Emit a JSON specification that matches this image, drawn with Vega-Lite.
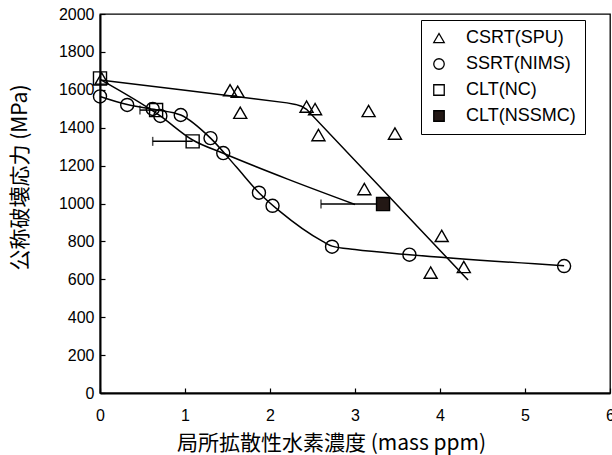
{
  "$schema": "https://vega.github.io/schema/vega-lite/v6.json",
  "width": 510,
  "height": 379,
  "autosize": "none",
  "padding": {"left": 100, "top": 14, "right": 2, "bottom": 62},
  "background": "white",
  "config": {
    "view": {"stroke": "black", "strokeWidth": 1.3},
    "axis": {"grid": false, "domainColor": "black", "domainWidth": 2, "tickColor": "black", "tickWidth": 1.2, "labelFont": "Liberation Sans", "labelFontSize": 16, "labelColor": "black", "labelOverlap": false, "labelFlush": false, "titleFont": "Noto Sans CJK JP", "titleFontSize": 21, "titleFontWeight": "normal", "titleColor": "black"}
  },
  "datasets": {
    "pts": [
      {"series": "CSRT(SPU)", "x": 0.02, "y": 1660},
      {"series": "CSRT(SPU)", "x": 1.53, "y": 1598},
      {"series": "CSRT(SPU)", "x": 1.62, "y": 1590},
      {"series": "CSRT(SPU)", "x": 1.65, "y": 1479},
      {"series": "CSRT(SPU)", "x": 2.43, "y": 1511},
      {"series": "CSRT(SPU)", "x": 2.53, "y": 1498},
      {"series": "CSRT(SPU)", "x": 2.57, "y": 1361},
      {"series": "CSRT(SPU)", "x": 3.16, "y": 1488},
      {"series": "CSRT(SPU)", "x": 3.47, "y": 1369},
      {"series": "CSRT(SPU)", "x": 3.11, "y": 1076},
      {"series": "CSRT(SPU)", "x": 4.02, "y": 829},
      {"series": "CSRT(SPU)", "x": 3.89, "y": 635},
      {"series": "CSRT(SPU)", "x": 4.28, "y": 665},
      {"series": "SSRT(NIMS)", "x": 0.0, "y": 1565},
      {"series": "SSRT(NIMS)", "x": 0.32, "y": 1520},
      {"series": "SSRT(NIMS)", "x": 0.62, "y": 1499},
      {"series": "SSRT(NIMS)", "x": 0.71, "y": 1462},
      {"series": "SSRT(NIMS)", "x": 0.95, "y": 1467},
      {"series": "SSRT(NIMS)", "x": 1.30, "y": 1345},
      {"series": "SSRT(NIMS)", "x": 1.45, "y": 1266},
      {"series": "SSRT(NIMS)", "x": 1.87, "y": 1057},
      {"series": "SSRT(NIMS)", "x": 2.03, "y": 988},
      {"series": "SSRT(NIMS)", "x": 2.73, "y": 772},
      {"series": "SSRT(NIMS)", "x": 3.64, "y": 730},
      {"series": "SSRT(NIMS)", "x": 5.46, "y": 670},
      {"series": "CLT(NC)", "x": 0.0, "y": 1660},
      {"series": "CLT(NC)", "x": 0.66, "y": 1493},
      {"series": "CLT(NC)", "x": 1.09, "y": 1328},
      {"series": "CLT(NSSMC)", "x": 3.33, "y": 997}
    ],
    "errs": [
      {"series": "CLT(NC)", "x": 0.66, "xlo": 0.47, "y": 1493},
      {"series": "CLT(NC)", "x": 1.09, "xlo": 0.62, "y": 1328},
      {"series": "CLT(NSSMC)", "x": 3.33, "xlo": 2.60, "y": 997}
    ],
    "fitA": [
      {"fit": "CSRT", "x": 0.0, "y": 1652},
      {"fit": "CSRT", "x": 1.0, "y": 1598},
      {"fit": "CSRT", "x": 2.2, "y": 1531},
      {"fit": "CSRT", "x": 2.3, "y": 1523},
      {"fit": "CSRT", "x": 2.37, "y": 1513},
      {"fit": "CSRT", "x": 2.43, "y": 1497},
      {"fit": "CSRT", "x": 4.33, "y": 596}
    ],
    "fitB": [
      {"fit": "SSRT", "x": 0.0, "y": 1565},
      {"fit": "SSRT", "x": 0.32, "y": 1522},
      {"fit": "SSRT", "x": 0.66, "y": 1495},
      {"fit": "SSRT", "x": 0.95, "y": 1467},
      {"fit": "SSRT", "x": 1.30, "y": 1345},
      {"fit": "SSRT", "x": 1.60, "y": 1195},
      {"fit": "SSRT", "x": 1.87, "y": 1057},
      {"fit": "SSRT", "x": 2.12, "y": 957},
      {"fit": "SSRT", "x": 2.62, "y": 800},
      {"fit": "SSRT", "x": 2.73, "y": 775},
      {"fit": "SSRT", "x": 3.0, "y": 757},
      {"fit": "SSRT", "x": 3.64, "y": 730},
      {"fit": "SSRT", "x": 5.46, "y": 672},
      {"fit": "CLT", "x": 0.0, "y": 1655},
      {"fit": "CLT", "x": 0.7, "y": 1465},
      {"fit": "CLT", "x": 1.09, "y": 1335},
      {"fit": "CLT", "x": 1.45, "y": 1265},
      {"fit": "CLT", "x": 2.2, "y": 1130},
      {"fit": "CLT", "x": 3.0, "y": 995}
    ]
  },
  "layer": [
    {
      "data": {"name": "fitA"},
      "mark": {"type": "line", "color": "black", "strokeWidth": 1.5, "interpolate": "linear"},
      "encoding": {
        "x": {"field": "x", "type": "quantitative", "scale": {"domain": [0, 6], "nice": false},
          "axis": {"tickCount": 6, "format": "d", "labelOverlap": false, "tickSize": -5, "labelPadding": 19, "title": "局所拡散性水素濃度 (mass ppm)", "titleX": 231, "titleY": 39}},
        "y": {"field": "y", "type": "quantitative", "scale": {"domain": [0, 2000], "nice": false},
          "axis": {"tickCount": 10, "format": "d", "labelOverlap": false, "tickSize": -5, "labelPadding": 11, "title": "公称破壊応力 (MPa)", "titleX": -70, "titleY": 163}},
        "detail": {"field": "fit", "type": "nominal"}
      }
    },
    {
      "data": {"name": "fitB"},
      "mark": {"type": "line", "color": "black", "strokeWidth": 1.5, "interpolate": "monotone"},
      "encoding": {
        "x": {"field": "x", "type": "quantitative"},
        "y": {"field": "y", "type": "quantitative"},
        "detail": {"field": "fit", "type": "nominal"}
      }
    },
    {
      "data": {"name": "errs"},
      "mark": {"type": "rule", "color": "black", "strokeWidth": 1.5},
      "encoding": {
        "x": {"field": "xlo", "type": "quantitative"},
        "x2": {"field": "x"},
        "y": {"field": "y", "type": "quantitative"}
      }
    },
    {
      "data": {"name": "errs"},
      "mark": {"type": "tick", "color": "black", "orient": "vertical", "size": 9, "thickness": 1.5},
      "encoding": {
        "x": {"field": "xlo", "type": "quantitative"},
        "y": {"field": "y", "type": "quantitative"}
      }
    },
    {
      "data": {"name": "pts"},
      "mark": {"type": "point", "strokeWidth": 1.4, "opacity": 1, "size": 170},
      "encoding": {
        "x": {"field": "x", "type": "quantitative"},
        "y": {"field": "y", "type": "quantitative"},
        "shape": {"field": "series", "type": "nominal",
          "scale": {"domain": ["CSRT(SPU)", "SSRT(NIMS)", "CLT(NC)", "CLT(NSSMC)"], "range": ["triangle-up", "circle", "square", "square"]},
          "legend": {"title": null, "orient": "none", "legendX": 321, "legendY": 6, "strokeColor": "black", "padding": 9, "labelFont": "Liberation Sans", "labelFontSize": 18, "labelColor": "black", "symbolSize": 110, "symbolStrokeWidth": 1.3, "rowPadding": 8, "labelOffset": 18, "fillColor": "white"}},
        "fill": {"field": "series", "type": "nominal",
          "scale": {"domain": ["CSRT(SPU)", "SSRT(NIMS)", "CLT(NC)", "CLT(NSSMC)"], "range": ["transparent", "transparent", "transparent", "#231815"]},
          "legend": {"title": null, "orient": "none", "legendX": 321, "legendY": 6, "strokeColor": "black", "padding": 9, "labelFont": "Liberation Sans", "labelFontSize": 18, "labelColor": "black", "symbolSize": 110, "symbolStrokeWidth": 1.3, "rowPadding": 8, "labelOffset": 18, "fillColor": "white"}},
        "stroke": {"field": "series", "type": "nominal",
          "scale": {"domain": ["CSRT(SPU)", "SSRT(NIMS)", "CLT(NC)", "CLT(NSSMC)"], "range": ["black", "black", "black", "black"]},
          "legend": {"title": null, "orient": "none", "legendX": 321, "legendY": 6, "strokeColor": "black", "padding": 9, "labelFont": "Liberation Sans", "labelFontSize": 18, "labelColor": "black", "symbolSize": 110, "symbolStrokeWidth": 1.3, "rowPadding": 8, "labelOffset": 18, "fillColor": "white"}}
      }
    }
  ]
}
